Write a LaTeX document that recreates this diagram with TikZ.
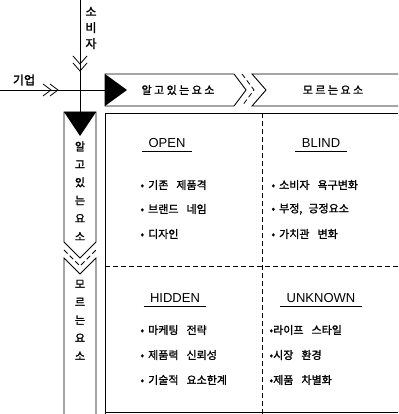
\documentclass[tikz,border=0pt]{standalone}
\usepackage{fontspec}
\setmainfont{Liberation Sans}
\newfontfamily\kr[FakeBold=1.4]{Noto Sans CJK KR}
\newfontfamily\krsp[LetterSpace=22,FakeBold=1.4]{Noto Sans CJK KR}
\usetikzlibrary{calc}
\begin{document}
\begin{tikzpicture}[x=1pt,y=-1pt, line width=0.9pt,
  lbl/.style={font=\kr\fontsize{11}{13}\selectfont, anchor=west, inner sep=0},
  ttl/.style={font=\fontsize{13}{15}\selectfont, inner sep=1pt},
  head/.style={font=\krsp\fontsize{11}{13}\selectfont, inner sep=0},
  vlab/.style={font=\kr\fontsize{11}{18}\selectfont, align=center, inner sep=0},
  side/.style={font=\kr\fontsize{12}{16}\selectfont, align=center, inner sep=0},
  dsh/.style={line width=0.8pt, dash pattern=on 5pt off 3pt},
  chev/.style={line width=0.8pt}]
\useasboundingbox (0,0) rectangle (398,414);

% header bar
\draw (105,74) -- (234,74) -- (246,90) -- (234,106) -- (105,106) -- cycle;
\draw[dsh] (242,74) -- (254,90) -- (242,106);
\draw (398,74) -- (252,74) -- (266,90) -- (252,106) -- (398,106);
\fill (105,74) -- (127,90) -- (105,106) -- cycle;
\node[head] (hknown) at (178,90) {알고있는요소};
\node[head] (hunknown) at (333,90) {모르는요소};

% left bar
\draw (64,112) -- (96,112) -- (96,242) -- (80,258) -- (64,242) -- cycle;
\draw[dsh] (64,250) -- (80,266) -- (96,250);
\draw (64,414) -- (64,258) -- (80,274) -- (96,258) -- (96,414);
\fill (64,112) -- (96,112) -- (80,136) -- cycle;
\node[vlab] (vknown) at (80,191) {알\\고\\있\\는\\요\\소};
\node[vlab] (vunknown) at (80,320) {모\\르\\는\\요\\소};

% arrows
\coordinate (firm) at (0,90);
\coordinate (hstart) at (105,90);
\coordinate (cons) at (80,0);
\coordinate (vstart) at (80,112);
\draw (firm) -- (hstart);
\draw (cons) -- (vstart);
\draw[chev] (43,84) -- (51,90) -- (43,96);
\draw[chev] (50,84) -- (58,90) -- (50,96);
\draw[chev] (73,56) -- (80,64) -- (87,56);
\draw[chev] (73,63) -- (80,71) -- (87,63);
\node[side] (firmlbl) at (24,80) {기업};
\node[side] (conslbl) at (91,28) {소\\비\\자};

% main box
\draw (398,113) -- (105,113) -- (105,414);
\draw (105,412) -- (398,412);
\draw[dsh] (262,113) -- (262,414);
\draw[dsh] (105,266) -- (398,266);

% titles
\node[ttl] (open) at (167,143) {OPEN};
\node[ttl] (blind) at (321,143) {BLIND};
\node[ttl] (hidden) at (175,298) {HIDDEN};
\node[ttl] (unknown) at (321,298) {UNKNOWN};
\foreach \t in {open,blind,hidden,unknown}
  \draw[line width=0.7pt] ($(\t.south west)+(-5,2)$) -- ($(\t.south east)+(5,2)$);

% bullets
\node[lbl] (o1) at (140,185) {•\hspace{4pt}기존\hspace{8pt}제품격};
\node[lbl] (o2) at (140,209) {•\hspace{4pt}브랜드\hspace{8pt}네임};
\node[lbl] (o3) at (140,234) {•\hspace{4pt}디자인};
\node[lbl] (b1) at (271,185) {•\hspace{4pt}소비자\hspace{8pt}욕구변화};
\node[lbl] (b2) at (271,209) {•\hspace{4pt}부정,\hspace{6pt}긍정요소};
\node[lbl] (b3) at (271,234) {•\hspace{4pt}가치관\hspace{8pt}변화};
\node[lbl] (h1) at (140,330) {•\hspace{4pt}마케팅\hspace{8pt}전략};
\node[lbl] (h2) at (140,355) {•\hspace{4pt}제품력\hspace{8pt}신뢰성};
\node[lbl] (h3) at (140,380) {•\hspace{4pt}기술적\hspace{8pt}요소한계};
\node[lbl] (u1) at (269,330) {•라이프\hspace{8pt}스타일};
\node[lbl] (u2) at (269,355) {•시장\hspace{8pt}환경};
\node[lbl] (u3) at (269,380) {•제품\hspace{8pt}차별화};
\end{tikzpicture}
\end{document}
